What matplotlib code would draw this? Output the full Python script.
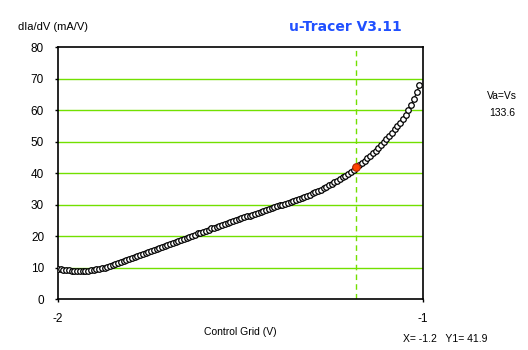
import matplotlib.pyplot as plt

# control grid sweep (V), 133 steps of 7.5 mV, and transconductance (mA/V)
grid_v = [round(-2.0 + 0.0075 * i, 4) for i in range(133)]
gm = [9.6, 9.4, 9.3, 9.2, 9.1, 9.0, 9.0, 8.9, 8.9, 8.9,
      9.0, 9.0, 9.1, 9.2, 9.4, 9.5, 9.7, 9.9, 10.2, 10.4,
      10.7, 11.1, 11.4, 11.7, 12.0, 12.4, 12.7, 13.0, 13.3, 13.6,
      14.0, 14.3, 14.6, 14.9, 15.3, 15.6, 15.9, 16.2, 16.6, 16.9,
      17.2, 17.5, 17.9, 18.2, 18.5, 18.8, 19.2, 19.5, 19.8, 20.1,
      20.4, 20.8, 21.1, 21.4, 21.7, 22.0, 22.4, 22.7, 23.0, 23.3,
      23.6, 23.9, 24.2, 24.5, 24.8, 25.1, 25.4, 25.7, 25.9, 26.2,
      26.5, 26.8, 27.1, 27.4, 27.7, 28.0, 28.2, 28.5, 28.8, 29.1,
      29.4, 29.7, 30.0, 30.3, 30.6, 30.9, 31.2, 31.5, 31.8, 32.1,
      32.4, 32.7, 33.1, 33.5, 33.9, 34.3, 34.7, 35.1, 35.6, 36.1,
      36.5, 37.0, 37.6, 38.1, 38.6, 39.2, 39.8, 40.4, 41.1, 41.9,
      42.6, 43.3, 43.9, 44.7, 45.4, 46.2, 47.1, 48.0, 48.9, 49.8,
      50.8, 51.8, 52.8, 53.9, 54.9, 56.0, 57.2, 58.4, 59.9, 61.6,
      63.5, 65.6, 67.8]
cursor_idx = 109
yticks = [0, 10, 20, 30, 40, 50, 60, 70, 80]

green = '#72e000'
font = 'Liberation Sans'

fig = plt.figure(figsize=(5.28, 3.5), dpi=100)
ax = fig.add_axes([0.1098, 0.1457, 0.6913, 0.72])

for t in yticks[1:-1]:
    ax.axhline(t, color=green, lw=1.0, zorder=1)
ax.axvline(grid_v[cursor_idx], color=green, lw=1.0, ls=(0, (4, 3)), zorder=1)

ax.plot(grid_v, gm, color='black', lw=0.8, marker='o', ms=4.0,
        mfc='white', mec='black', mew=0.9, zorder=3)
ax.plot(grid_v[cursor_idx], gm[cursor_idx], marker='o', ms=5.5,
        mfc='#ff4400', mec='#aa2200', mew=0.8, zorder=4)

ax.set_xlim(-2, -1)
ax.set_ylim(0, 80)
ax.set_xticks([-2, -1])
ax.set_xticklabels(['-2', '-1'])
ax.set_yticks(yticks)
for s in ax.spines.values():
    s.set_color('black')
    s.set_linewidth(1.2)
ax.tick_params(axis='both', direction='out', length=2, width=1,
               labelsize=8.5, pad=8)
for lab in ax.get_xticklabels() + ax.get_yticklabels():
    lab.set_family(font)

fig.text(18 / 528, 1 - 27 / 350, 'dIa/dV (mA/V)', fontsize=8,
         family=font, va='center')
fig.text(345 / 528, 1 - 27 / 350, 'u-Tracer V3.11', fontsize=10,
         family='DejaVu Sans', color='#2050ff', fontweight='bold',
         ha='center', va='center')
fig.text(240 / 528, 1 - 332 / 350, 'Control Grid (V)', fontsize=7.5,
         family=font, ha='center', va='center')
fig.text(403 / 528, 1 - 339 / 350,
         'X= %.1f   Y1= %.1f' % (grid_v[cursor_idx], gm[cursor_idx]),
         fontsize=7.5, family=font, va='center')
fig.text(502 / 528, 1 - 96 / 350, 'Va=Vs', fontsize=7.5, family=font,
         ha='center', va='center')
fig.text(502 / 528, 1 - 113 / 350, '133.6', fontsize=7.5, family=font,
         ha='center', va='center')

fig.savefig('out.png', dpi=100)
